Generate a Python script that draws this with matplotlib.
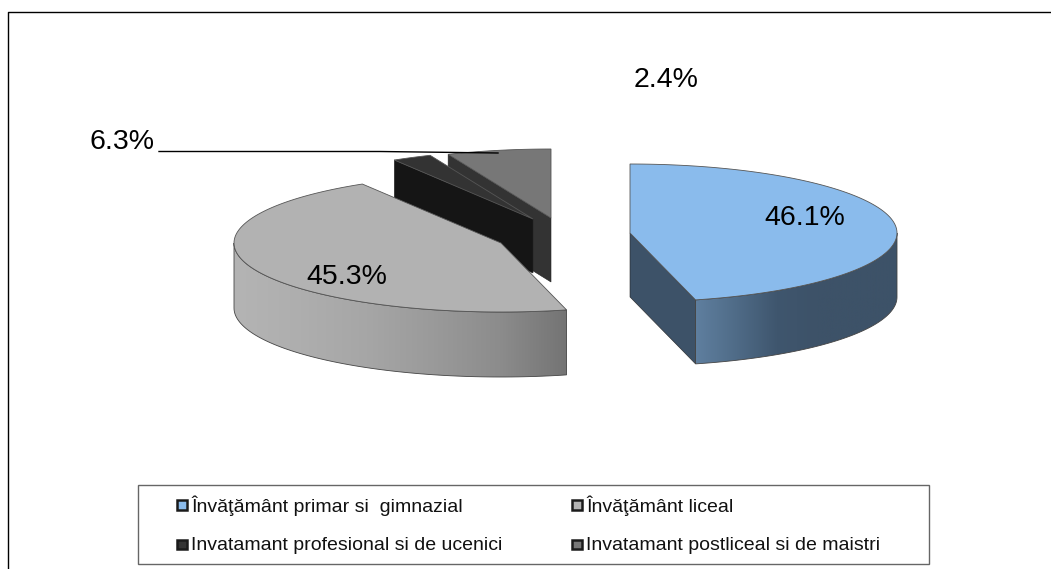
import numpy as np
import matplotlib
matplotlib.use('Agg')
import matplotlib.pyplot as plt
from matplotlib.patches import Polygon, Rectangle
from matplotlib.colors import LinearSegmentedColormap

plt.rcParams['font.family'] = ['Liberation Sans', 'DejaVu Sans']

categories = ['Învăţământ primar si  gimnazial', 'Învăţământ liceal',
              'Invatamant profesional si de ucenici', 'Invatamant postliceal si de maistri']
values = [46.1, 45.3, 2.4, 6.3]
labels = ['46.1%', '45.3%', '2.4%', '6.3%']

# look of each slice: exploded centre in pixels, colours
centers = [(630, 233), (501, 243), (533, 219), (551, 218)]
depths = [64, 65, 54, 64]
top_colors = ['#8abbec', '#b2b2b2', '#333333', '#777777']
cut_colors = ['#3d5268', None, '#151515', '#333333']
wall_stops = [['#5f7f9f', '#4f6b87', '#3f566e', '#3d5268', '#3d5268', '#3d5268'],
              ['#b4b4b4', '#aeaeae', '#a6a6a6', '#9a9a9a', '#8c8c8c', '#747474'],
              None, None]
marker_colors = ['#8abbec', '#b2b2b2', '#333333', '#777777']
RX, RY = 267, 69

fig = plt.figure(figsize=(10.51, 5.69), dpi=100)
ax = fig.add_axes([0, 0, 1, 1])


def pts(cx, cy, angles, dy=0):
    a = np.radians(angles)
    return np.column_stack([cx + RX*np.sin(a), cy - RY*np.cos(a) + dy])


# cumulative angles, clockwise from 12 o'clock
total = sum(values)
edges = np.concatenate([[0], np.cumsum(values)])/total*360

# back slices first so the big ones cover them
for i in [3, 2, 1, 0]:
    cx, cy = centers[i]
    d = depths[i]
    a0, a1 = edges[i], edges[i+1]
    z = 10 + (3 - i)

    if cut_colors[i] is not None:
        e = pts(cx, cy, [a1 if i == 0 else a0])[0]
        quad = [(cx, cy), tuple(e), (e[0], e[1]+d), (cx, cy+d)]
        ax.add_patch(Polygon(quad, closed=True, fc=cut_colors[i], ec='#222222', lw=0.4, zorder=z))

    # outer wall with the sideways gradient
    w0, w1 = max(a0, 90), min(a1, 270)
    if w1 > w0 and wall_stops[i] is not None:
        th = np.linspace(w0, w1, 80)
        upper = pts(cx, cy, th)
        lower = pts(cx, cy, th, d)
        wall = Polygon(np.vstack([upper, lower[::-1]]), closed=True, fc='none', ec='#444444', lw=0.6, zorder=z+0.2)
        ax.add_patch(wall)
        xs = np.r_[upper[:, 0], lower[:, 0]]
        ys = np.r_[upper[:, 1], lower[:, 1]]
        cmap = LinearSegmentedColormap.from_list('w', wall_stops[i])
        grad = np.linspace(0, 1, 256)
        im = ax.imshow(grad[None, :], extent=[xs.min(), xs.max(), ys.max(), ys.min()], cmap=cmap,
                       aspect='auto', zorder=z+0.1, vmin=0, vmax=1)
        im.set_clip_path(wall)

    th = np.linspace(a0, a1, 120)
    face = np.vstack([[(cx, cy)], pts(cx, cy, th)])
    ax.add_patch(Polygon(face, closed=True, fc=top_colors[i], ec='#555555', lw=0.6, zorder=z+0.3))

ax.plot([159, 380, 498], [151.5, 151.5, 153], color='black', lw=1, zorder=20)

# data labels
label_pos = [(804.5, 218), (346.5, 277), (666, 80), (122, 142)]
for txt, (x, y) in zip(labels, label_pos):
    ax.text(x, y, txt, fontsize=20.5, color='black', ha='center', va='center', zorder=30)

# outer frame
ax.plot([7.5, 7.5, 1051], [569, 11.5, 11.5], color='black', lw=1, zorder=1)

# legend
ax.add_patch(Rectangle((137.5, 484.5), 791.5, 79.5, fc='white', ec='#666666', lw=1, zorder=2))
leg_x = [176, 571]
leg_y = [504.5, 544]
leg_base = [511.5, 550]
for k, name in enumerate(categories):
    x = leg_x[k % 2]
    y = leg_y[k // 2]
    ax.add_patch(Rectangle((x+1, y-4.5), 10, 9.5, fc=marker_colors[k], ec='#1a1a1a', lw=1.8, zorder=3))
    ax.text(x+15, leg_base[k // 2], name, fontsize=14, color='#111111', ha='left', va='baseline', zorder=3)

ax.set_xlim(0, 1051)
ax.set_ylim(569, 0)
ax.axis('off')
fig.savefig('out.png', dpi=100, facecolor='white')
